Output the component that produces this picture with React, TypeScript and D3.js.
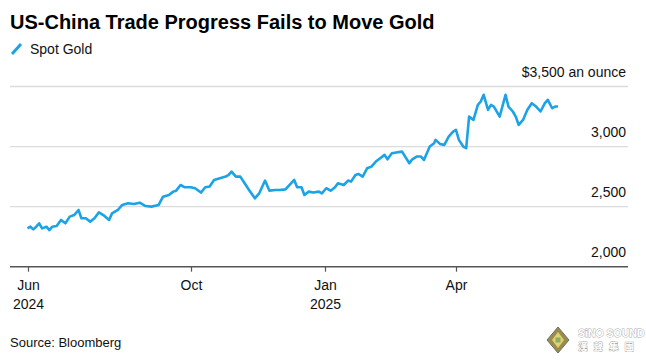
import { useRef, useEffect } from "react";
import * as d3 from "d3";

// Spot gold, USD per ounce
const dates: string[] = [
  "2024-06-11", "2024-06-13", "2024-06-15", "2024-06-17", "2024-06-19", "2024-06-21",
  "2024-06-24", "2024-06-26", "2024-06-28", "2024-07-01", "2024-07-04", "2024-07-07",
  "2024-07-10", "2024-07-13", "2024-07-16", "2024-07-18", "2024-07-21", "2024-07-24",
  "2024-07-27", "2024-07-30", "2024-08-02", "2024-08-06", "2024-08-08", "2024-08-12",
  "2024-08-15", "2024-08-19", "2024-08-23", "2024-08-27", "2024-08-31", "2024-09-04",
  "2024-09-09", "2024-09-12", "2024-09-16", "2024-09-19", "2024-09-21", "2024-09-24",
  "2024-09-27", "2024-10-01", "2024-10-04", "2024-10-08", "2024-10-11", "2024-10-14",
  "2024-10-17", "2024-10-21", "2024-10-25", "2024-10-27", "2024-10-29", "2024-11-01",
  "2024-11-04", "2024-11-07", "2024-11-10", "2024-11-14", "2024-11-17", "2024-11-21",
  "2024-11-24", "2024-11-28", "2024-12-01", "2024-12-05", "2024-12-11", "2024-12-13",
  "2024-12-16", "2024-12-18", "2024-12-21", "2024-12-24", "2024-12-28", "2024-12-30",
  "2025-01-02", "2025-01-05", "2025-01-08", "2025-01-10", "2025-01-14", "2025-01-17",
  "2025-01-19", "2025-01-22", "2025-01-24", "2025-01-27", "2025-01-30", "2025-02-02",
  "2025-02-05", "2025-02-08", "2025-02-11", "2025-02-13", "2025-02-16", "2025-02-19",
  "2025-02-23", "2025-02-28", "2025-03-02", "2025-03-05", "2025-03-08", "2025-03-10",
  "2025-03-14", "2025-03-17", "2025-03-18", "2025-03-21", "2025-03-24", "2025-03-27",
  "2025-03-30", "2025-04-01", "2025-04-03", "2025-04-06", "2025-04-08", "2025-04-10",
  "2025-04-13", "2025-04-16", "2025-04-18", "2025-04-20", "2025-04-23", "2025-04-25",
  "2025-04-27", "2025-05-01", "2025-05-05", "2025-05-07", "2025-05-10", "2025-05-12",
  "2025-05-14", "2025-05-17", "2025-05-20", "2025-05-23", "2025-05-26", "2025-05-29",
  "2025-06-01", "2025-06-03", "2025-06-06", "2025-06-08", "2025-06-10",
];

const prices: number[] = [
  2319, 2333, 2311, 2333, 2361, 2319,
  2333, 2305, 2333, 2339, 2389, 2361,
  2417, 2430, 2472, 2403, 2403, 2375,
  2403, 2453, 2430, 2389, 2444, 2472,
  2514, 2528, 2522, 2533, 2505, 2500,
  2514, 2583, 2597, 2625, 2633, 2680,
  2661, 2661, 2653, 2617, 2661, 2667,
  2722, 2736, 2750, 2764, 2792, 2750,
  2750, 2694, 2639, 2569, 2611, 2717,
  2633, 2639, 2639, 2644, 2722, 2661,
  2661, 2597, 2625, 2617, 2625, 2611,
  2653, 2633, 2661, 2694, 2680, 2717,
  2708, 2764, 2772, 2750, 2819, 2833,
  2875, 2903, 2931, 2894, 2944, 2950,
  2958, 2861, 2894, 2917, 2917, 2889,
  3000, 3028, 3056, 3022, 3014, 3083,
  3125, 3139, 3056, 3000, 2986, 3250,
  3222, 3347, 3375, 3431, 3306, 3347,
  3333, 3250, 3431, 3333, 3292, 3250,
  3181, 3222, 3306, 3361, 3333, 3292,
  3361, 3389, 3319, 3333, 3333,
];

const yTicks = [2000, 2500, 3000, 3500];
const xTickDates = ["2024-06-11", "2024-10-01", "2025-01-01", "2025-04-01"];
const xTickMonths = ["Jun", "Oct", "Jan", "Apr"];
const xTickYears = ["2024", "", "2025", ""];

const FONT = "'Liberation Sans', Arial, sans-serif";
const LINE_COLOR = "#1ba3e6";

export default function App() {
  const svgRef = useRef<SVGSVGElement>(null);

  useEffect(() => {
    if (!svgRef.current) return;
    document.body.style.margin = "0";

    const width = 646;
    const height = 362;
    const left = 10;
    const right = 628;

    const svg = d3.select(svgRef.current);
    svg.selectAll("*").remove();
    svg.attr("width", width).attr("height", height).style("background", "#fff");

    const parse = d3.timeParse("%Y-%m-%d");
    const data = dates.map((d, i) => ({ date: parse(d) as Date, value: prices[i] }));

    const x = d3.scaleTime()
      .domain([parse("2024-06-11") as Date, parse("2025-06-10") as Date])
      .range([27.5, 558]);

    const y = d3.scaleLinear()
      .domain([2000, 3500])
      .range([266.7, 86.5]);

    // Title + legend
    svg.append("text")
      .attr("x", 10).attr("y", 28.5)
      .style("font-family", FONT).style("font-weight", "bold").style("font-size", "20px")
      .style("fill", "#000")
      .text("US-China Trade Progress Fails to Move Gold");

    svg.append("line")
      .attr("x1", 12).attr("y1", 54).attr("x2", 21).attr("y2", 44)
      .attr("stroke", LINE_COLOR).attr("stroke-width", 3).attr("stroke-linecap", "butt");

    svg.append("text")
      .attr("x", 30).attr("y", 53.5)
      .style("font-family", FONT).style("font-size", "14px").style("fill", "#111")
      .text("Spot Gold");

    // Gridlines + y labels
    const grid = svg.append("g");
    yTicks.filter(t => t !== 2000).forEach(t => {
      grid.append("line")
        .attr("x1", left).attr("x2", right)
        .attr("y1", y(t)).attr("y2", y(t))
        .attr("stroke", "#dcdcdc").attr("stroke-width", 1.3);
    });
    yTicks.forEach(t => {
      grid.append("text")
        .attr("x", 626).attr("y", y(t) - 9.5)
        .attr("text-anchor", "end")
        .style("font-family", FONT).style("font-size", "14px").style("fill", "#111")
        .text(t === 3500 ? `$${d3.format(",")(t)} an ounce` : d3.format(",")(t));
    });

    // Baseline axis
    svg.append("line")
      .attr("x1", left).attr("x2", right)
      .attr("y1", y(2000)).attr("y2", y(2000))
      .attr("stroke", "#555").attr("stroke-width", 1.4);

    const axis = svg.append("g");
    xTickDates.forEach((d, i) => {
      const xp = Math.round(x(parse(d) as Date)) + 0.5;
      axis.append("line")
        .attr("x1", xp).attr("x2", xp)
        .attr("y1", y(2000)).attr("y2", y(2000) + 5)
        .attr("stroke", "#555").attr("stroke-width", 1.2);
      axis.append("text")
        .attr("x", xp).attr("y", 290)
        .attr("text-anchor", "middle")
        .style("font-family", FONT).style("font-size", "14px").style("fill", "#111")
        .text(xTickMonths[i]);
      if (xTickYears[i]) {
        axis.append("text")
          .attr("x", xp).attr("y", 308.5)
          .attr("text-anchor", "middle")
          .style("font-family", FONT).style("font-size", "14px").style("fill", "#111")
          .text(xTickYears[i]);
      }
    });

    // Line
    const line = d3.line<{ date: Date; value: number }>()
      .x(d => x(d.date))
      .y(d => y(d.value));

    svg.append("path")
      .datum(data)
      .attr("d", line)
      .attr("fill", "none")
      .attr("stroke", LINE_COLOR)
      .attr("stroke-width", 2.6)
      .attr("stroke-linejoin", "round");

    // Source
    svg.append("text")
      .attr("x", 10).attr("y", 346.5)
      .style("font-family", FONT).style("font-size", "13px").style("fill", "#111")
      .text("Source: Bloomberg");

    // Watermark
    const wm = svg.append("g").attr("opacity", 0.85);
    wm.append("path")
      .attr("d", "M558,327 L569,340 L558,353 L547,340 Z")
      .attr("fill", "#8a7a2a").attr("stroke", "#555").attr("stroke-width", 1);
    wm.append("path")
      .attr("d", "M558,332 L564,340 L558,348 L552,340 Z")
      .attr("fill", "#d8c860");
    wm.append("rect")
      .attr("x", 555.5).attr("y", 337.5).attr("width", 5).attr("height", 5)
      .attr("fill", "#7aa040");
    wm.append("text")
      .attr("x", 578).attr("y", 337)
      .style("font-family", FONT).style("font-weight", "bold").style("font-size", "10.5px")
      .style("fill", "#fff").style("stroke", "#999").style("stroke-width", 0.8)
      .style("paint-order", "stroke")
      .text("SiNO SOUND");
    wm.append("text")
      .attr("x", 578).attr("y", 350)
      .style("font-family", "'Noto Sans CJK TC', sans-serif").style("font-weight", "bold").style("font-size", "9.5px")
      .style("letter-spacing", "6px")
      .style("fill", "#fff").style("stroke", "#999").style("stroke-width", 0.8)
      .style("paint-order", "stroke")
      .text("漢聲集團");
  }, []);

  return <svg ref={svgRef} style={{ display: "block" }} />;
}
